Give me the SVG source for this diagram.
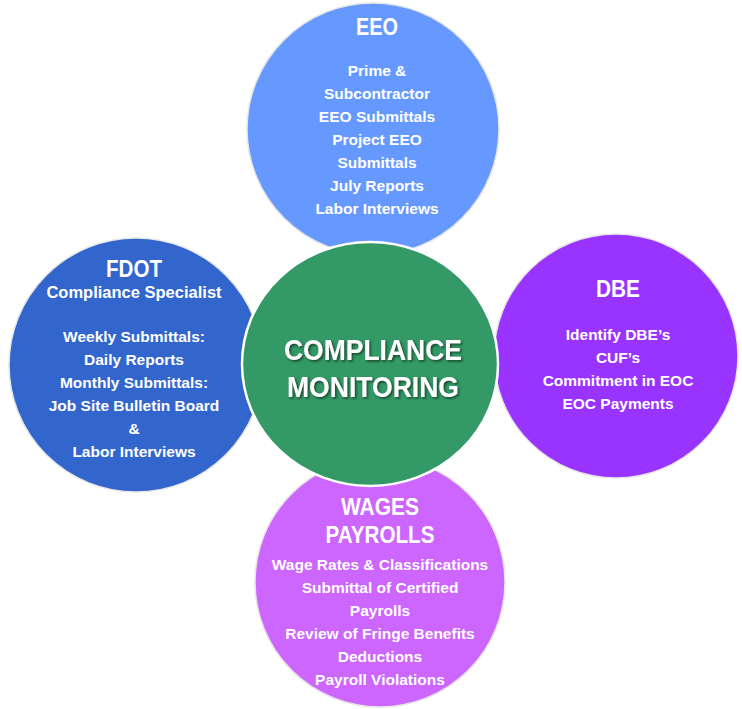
<svg xmlns="http://www.w3.org/2000/svg" width="742" height="709" viewBox="0 0 742 709">
<defs>
<style>
.ring{stroke:#e6e6e6;stroke-width:1.5}
.t{font-family:"Liberation Sans",Arial,sans-serif;font-weight:bold;fill:#ffffff;text-anchor:middle}
.h{font-size:24px}
.b{font-size:15.5px}
.c{font-size:30px}
</style>
<filter id="sh" x="-10%" y="-20%" width="120%" height="140%">
<feDropShadow dx="1.5" dy="1.5" stdDeviation="0.8" flood-color="#0d2e1c" flood-opacity="0.8"/>
</filter>
</defs>
<rect width="742" height="709" fill="#ffffff"/>
<g id="connectors"/>
<g id="eeo">
<circle class="ring" cx="373" cy="129" r="126" fill="#6699FF"/>
<text class="t h" x="377" y="35" textLength="42" lengthAdjust="spacingAndGlyphs">EEO</text>
<text class="t b" x="377" y="76">Prime &amp;</text>
<text class="t b" x="377" y="99">Subcontractor</text>
<text class="t b" x="377" y="122">EEO Submittals</text>
<text class="t b" x="377" y="145">Project EEO</text>
<text class="t b" x="377" y="168">Submittals</text>
<text class="t b" x="377" y="191">July Reports</text>
<text class="t b" x="377" y="214">Labor Interviews</text>
</g>
<g id="fdot">
<circle class="ring" cx="136" cy="365" r="127" fill="#3366CC"/>
<text class="t h" x="134" y="277" textLength="56" lengthAdjust="spacingAndGlyphs">FDOT</text>
<text class="t" x="134" y="298" font-size="16.5">Compliance Specialist</text>
<text class="t b" x="134" y="342">Weekly Submittals:</text>
<text class="t b" x="134" y="365">Daily Reports</text>
<text class="t b" x="134" y="388">Monthly Submittals:</text>
<text class="t b" x="134" y="411">Job Site Bulletin Board</text>
<text class="t b" x="134" y="434">&amp;</text>
<text class="t b" x="134" y="457">Labor Interviews</text>
</g>
<g id="dbe">
<circle class="ring" cx="616" cy="356" r="122" fill="#9933FF"/>
<text class="t h" x="618" y="297" textLength="44" lengthAdjust="spacingAndGlyphs">DBE</text>
<text class="t b" x="618" y="340">Identify DBE’s</text>
<text class="t b" x="618" y="363">CUF’s</text>
<text class="t b" x="618" y="386">Commitment in EOC</text>
<text class="t b" x="618" y="409">EOC Payments</text>
</g>
<g id="wages">
<circle class="ring" cx="380" cy="582" r="125" fill="#CC66FF"/>
<text class="t h" x="380" y="515" textLength="78" lengthAdjust="spacingAndGlyphs">WAGES</text>
<text class="t h" x="380" y="543" textLength="109" lengthAdjust="spacingAndGlyphs">PAYROLLS</text>
<text class="t b" x="380" y="570">Wage Rates &amp; Classifications</text>
<text class="t b" x="380" y="593">Submittal of Certified</text>
<text class="t b" x="380" y="616">Payrolls</text>
<text class="t b" x="380" y="639">Review of Fringe Benefits</text>
<text class="t b" x="380" y="662">Deductions</text>
<text class="t b" x="380" y="685">Payroll Violations</text>
</g>
<g id="center">
<ellipse cx="370" cy="364" rx="128" ry="122" fill="#339966" stroke="#ffffff" stroke-width="2.5"/>
<text class="t c" x="373" y="360" textLength="178" lengthAdjust="spacingAndGlyphs" filter="url(#sh)">COMPLIANCE</text>
<text class="t c" x="373" y="397" textLength="172" lengthAdjust="spacingAndGlyphs" filter="url(#sh)">MONITORING</text>
</g>
</svg>
